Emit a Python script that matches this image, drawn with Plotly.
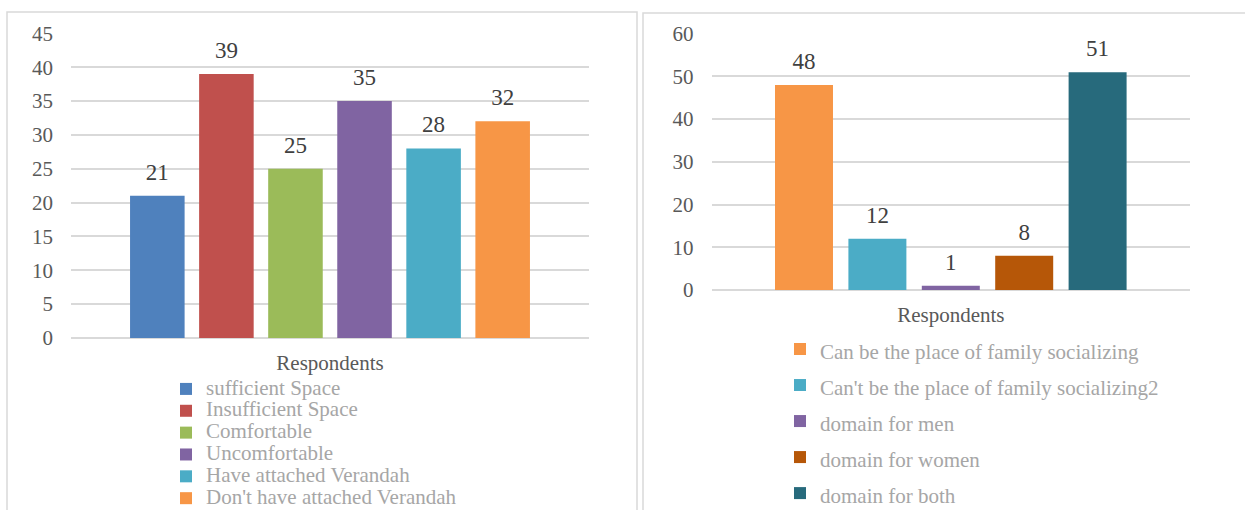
import plotly.graph_objects as go

# ---------------- data ----------------
category = ["Respondents"]

left_names = ["sufficient Space", "Insufficient Space", "Comfortable",
              "Uncomfortable", "Have attached Verandah", "Don't have attached Verandah"]
left_values = [21, 39, 25, 35, 28, 32]
left_colors = ["#4F81BD", "#C0504D", "#9BBB59", "#8064A2", "#4BACC6", "#F79646"]
left_ticks = [0, 5, 10, 15, 20, 25, 30, 35, 40, 45]

right_names = ["Can be the place of family socializing",
               "Can't be the place of family socializing2",
               "domain for men", "domain for women", "domain for both"]
right_values = [48, 12, 1, 8, 51]
right_colors = ["#F79646", "#4BACC6", "#8064A2", "#B65708", "#276A7C"]
right_ticks = [0, 10, 20, 30, 40, 50, 60]

# ---------------- layout helpers ----------------
W, H = 1245, 510
def px(x):
    return x / W
def py(y):
    return 1 - y / H

SERIF = "Liberation Serif"
GRID = "#d9d9d9"
TICKCOL = "#595959"
LEGCOL = "#a6a6a6"
LABELCOL = "#404040"

fig = go.Figure()

def add_panel(names, values, colors, xa, ya, legend):
    for n, v, c in zip(names, values, colors):
        fig.add_trace(go.Bar(
            x=category, y=[v], name='<span style="font-size:21px">%s</span>' % n,
            marker=dict(color=c, line=dict(width=0)),
            xaxis=xa, yaxis=ya, legend=legend, hoverinfo="skip",
        ))
    for n, v in zip(names, values):
        fig.add_trace(go.Scatter(
            x=category, y=[v], mode="markers+text", text=[str(v)],
            textposition="top center",
            textfont=dict(family=SERIF, size=23, color=LABELCOL),
            marker=dict(size=15, color="rgba(0,0,0,0)"),
            showlegend=False, cliponaxis=False, hoverinfo="skip",
            xaxis=xa, yaxis=ya,
        ))

add_panel(left_names, left_values, left_colors, "x", "y", "legend")
add_panel(right_names, right_values, right_colors, "x2", "y2", "legend2")

axis_common_y = dict(
    showgrid=True, gridcolor=GRID, gridwidth=1.5,
    zeroline=True, zerolinecolor=GRID, zerolinewidth=1.5,
    showline=False, ticks="", ticklabelstandoff=17,
    tickfont=dict(family=SERIF, size=21, color=TICKCOL),
    fixedrange=True, automargin=False,
)
axis_common_x = dict(
    type="category", showgrid=False, zeroline=False, showline=False,
    ticks="", ticklabelstandoff=10,
    tickfont=dict(family=SERIF, size=21, color=TICKCOL),
    fixedrange=True, automargin=False,
)

fig.update_layout(
    width=W, height=H,
    font=dict(family=SERIF, color=TICKCOL),
    margin=dict(l=0, r=0, t=0, b=0, autoexpand=False),
    paper_bgcolor="white", plot_bgcolor="white",
    barmode="group", bargap=0.2, bargroupgap=0.21,
    scattermode="group",
    xaxis=dict(domain=[px(71), px(589)], anchor="y", range=[-0.5, 0.5], **axis_common_x),
    yaxis=dict(domain=[py(338), py(33.3)], anchor="x", range=[0, 45],
               tickvals=left_ticks, **axis_common_y),
    xaxis2=dict(domain=[px(711.6), px(1190)], anchor="y2", range=[-0.5214, 0.5214], **axis_common_x),
    yaxis2=dict(domain=[py(290), py(33.7)], anchor="x2", range=[0, 60],
                tickvals=right_ticks, **axis_common_y),
    legend=dict(x=px(166), y=py(373), xanchor="left", yanchor="top",
                font=dict(family=SERIF, size=14.5, color=LEGCOL),
                bgcolor="rgba(0,0,0,0)", traceorder="normal"),
    legend2=dict(x=px(780), y=py(326), xanchor="left", yanchor="top",
                 font=dict(family=SERIF, size=25.4, color=LEGCOL),
                 bgcolor="rgba(0,0,0,0)", traceorder="normal"),
    shapes=[
        dict(type="rect", xref="paper", yref="paper",
             x0=px(7), x1=px(637), y0=py(530), y1=py(12),
             line=dict(color=GRID, width=1.5), fillcolor="rgba(0,0,0,0)", layer="below"),
        dict(type="rect", xref="paper", yref="paper",
             x0=px(643), x1=px(1265), y0=py(530), y1=py(13),
             line=dict(color=GRID, width=1.5), fillcolor="rgba(0,0,0,0)", layer="below"),
    ],
    showlegend=True,
)

fig.write_html("out.html")
